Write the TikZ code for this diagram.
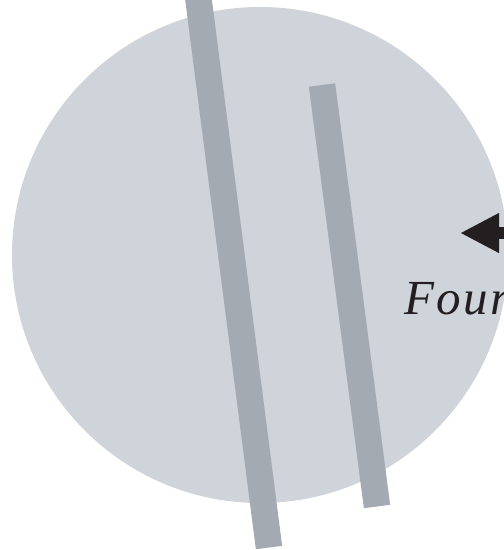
\documentclass[tikz,border=0pt]{standalone}
\usepackage{fontspec}
\setmainfont{Liberation Serif}
\newfontfamily\spacedserif[LetterSpace=5]{Liberation Serif}
\usetikzlibrary{arrows.meta}
\definecolor{discfill}{RGB}{207,211,218}
\definecolor{barfill}{RGB}{163,170,178}
\definecolor{inkdark}{RGB}{35,31,32}
\tikzset{
  bar/.style={draw=barfill, line width=26.5pt, line cap=butt},
  pointer/.style={draw=inkdark, line width=12pt, -{Triangle[length=39pt,width=37pt]}},
  label/.style={inner sep=0pt, text=inkdark, font=\spacedserif\fontsize{49}{52}\selectfont\itshape}
}
\begin{document}
\begin{tikzpicture}[x=1pt,y=-1pt]
\useasboundingbox (0,0) rectangle (504,550);
\clip (0,0) rectangle (504,550);
\fill[discfill] (260,255) circle[radius=248];
\coordinate (b1top) at (196,-20);
\coordinate (b1bot) at (269,547.5);
\coordinate (b2top) at (322,85);
\coordinate (b2bot) at (377,506.5);
\draw[bar] (b1top) -- (b1bot);
\draw[bar] (b2top) -- (b2bot);
\coordinate (tail) at (560,233);
\coordinate (tip) at (460,233);
\draw[pointer] (tail) -- (tip);
\node[label, anchor=base west] (four) at (404,314) {Four};
\end{tikzpicture}
\end{document}
